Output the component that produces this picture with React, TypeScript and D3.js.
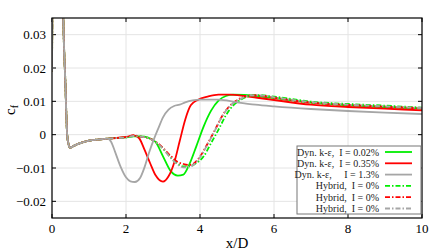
import * as React from 'react';
import * as d3 from 'd3';

type Pt = [number, number];

// shared start of every curve (jet impingement spike + recirculation dip)
const head: Pt[] = [[0, 0.019], [0.03, 0.06], [0.27, 0.06], [0.305, 0.035], [0.36, 0.016], [0.41, 0.0], [0.45, -0.003], [0.49, -0.0039],
  [0.6, -0.0033], [0.8, -0.0024], [1.0, -0.0018], [1.3, -0.0014]];

const dynLow: Pt[] = [[1.6, -0.0011], [2.0, -0.0008], [2.2, -0.0005], [2.4, -0.0005], [2.6, -0.0009], [2.8, -0.0022], [3.0, -0.0065], [3.2, -0.0108], [3.4, -0.0123], [3.55, -0.012], [3.7, -0.0092], [3.9, -0.0035], [4.1, 0.0025], [4.3, 0.0072], [4.5, 0.0102], [4.7, 0.0116], [4.9, 0.012], [5.2, 0.0119], [5.5, 0.0116], [6, 0.011], [7, 0.0096], [8, 0.0088], [9, 0.0083], [10, 0.0078]];
const dynMid: Pt[] = [[1.6, -0.0011], [2.0, -0.0007], [2.2, -0.0002], [2.35, -0.001], [2.5, -0.0045], [2.65, -0.0085], [2.8, -0.0122], [3.0, -0.0141], [3.15, -0.0125], [3.3, -0.0085], [3.45, -0.002], [3.6, 0.0045], [3.75, 0.0088], [3.95, 0.0105], [4.2, 0.0114], [4.5, 0.012], [4.8, 0.012], [5.2, 0.0116], [5.6, 0.011], [6, 0.0104], [7, 0.009], [8, 0.0083], [9, 0.0078], [10, 0.0073]];
const dynHigh: Pt[] = [[1.5, -0.0012], [1.6, -0.0022], [1.7, -0.005], [1.85, -0.0095], [2.0, -0.0128], [2.12, -0.014], [2.24, -0.0142], [2.38, -0.013], [2.5, -0.0098], [2.62, -0.0055], [2.75, -0.0015], [2.87, 0.0018], [3.0, 0.0052], [3.15, 0.0075], [3.3, 0.0086], [3.45, 0.009], [3.6, 0.0097], [3.8, 0.0103], [4.0, 0.0105], [4.5, 0.0105], [5.0, 0.0097], [5.5, 0.009], [6, 0.0085], [7, 0.0077], [8, 0.0071], [9, 0.0066], [10, 0.0062]];
const hybGreen: Pt[] = [[1.6, -0.0011], [2.0, -0.0008], [2.2, -0.0004], [2.4, -0.0006], [2.6, -0.001], [2.8, -0.0022], [3.0, -0.0042], [3.2, -0.0068], [3.4, -0.0088], [3.55, -0.0095], [3.7, -0.0095], [3.9, -0.0085], [4.1, -0.0065], [4.3, -0.0025], [4.5, 0.0015], [4.7, 0.0058], [4.9, 0.0088], [5.1, 0.0105], [5.3, 0.0115], [5.5, 0.0119], [6, 0.0114], [7, 0.0099], [8, 0.0092], [9, 0.0087], [10, 0.0081]];
const hybRed: Pt[] = [[1.6, -0.0011], [2.0, -0.0007], [2.2, -0.0002], [2.4, -0.0006], [2.6, -0.001], [2.8, -0.0021], [3.0, -0.004], [3.2, -0.0063], [3.4, -0.0082], [3.55, -0.0088], [3.7, -0.0091], [3.85, -0.0085], [4.0, -0.0066], [4.2, -0.0028], [4.4, 0.0013], [4.6, 0.0056], [4.8, 0.0086], [5.0, 0.0103], [5.2, 0.0114], [5.4, 0.0118], [5.7, 0.0116], [6, 0.0111], [7, 0.0096], [8, 0.0089], [9, 0.0084], [10, 0.0079]];
const hybGrey: Pt[] = [[1.6, -0.0011], [2.0, -0.0008], [2.2, -0.0004], [2.4, -0.0006], [2.6, -0.001], [2.8, -0.0022], [3.0, -0.0042], [3.2, -0.0068], [3.4, -0.009], [3.55, -0.0098], [3.7, -0.0097], [3.85, -0.0088], [4.0, -0.0068], [4.2, -0.003], [4.4, 0.0012], [4.6, 0.0055], [4.8, 0.0085], [5.0, 0.0102], [5.2, 0.0113], [5.4, 0.0118], [5.7, 0.0117], [6, 0.0112], [7, 0.0098], [8, 0.009], [9, 0.0085], [10, 0.008]];

const legendLabels = ['Dyn. k-ε,  I = 0.02%', 'Dyn. k-ε,  I = 0.35%', 'Dyn. k-ε,     I = 1.3%', 'Hybrid,  I = 0%', 'Hybrid,  I = 0%', 'Hybrid,  I = 0%'];
const xTicks = [0, 2, 4, 6, 8, 10];
const yTicks = [-0.02, -0.01, 0, 0.01, 0.02, 0.03];

const GREEN = '#00ee00';
const RED = '#ff0000';
const GREY = '#a6a6a6';
const DASHDOT = '5,2,1.5,2';

const series = [
  { data: dynLow, color: GREEN, dash: null, label: 0 },
  { data: dynMid, color: RED, dash: null, label: 1 },
  { data: dynHigh, color: GREY, dash: null, label: 2 },
  { data: hybGreen, color: GREEN, dash: DASHDOT, label: 3 },
  { data: hybRed, color: RED, dash: DASHDOT, label: 4 },
  { data: hybGrey, color: GREY, dash: DASHDOT, label: 5 },
];
// grey solid on top, like the original
const drawOrder = [0, 1, 3, 4, 5, 2];

export default function App() {
  const width = 431, height = 251;
  const margin = { top: 18, right: 9, bottom: 33, left: 52 };
  const iw = width - margin.left - margin.right;
  const ih = height - margin.top - margin.bottom;

  const x = d3.scaleLinear().domain([0, 10]).range([0, iw]);
  const y = d3.scaleLinear().domain([-0.025, 0.035]).range([ih, 0]);

  const line = d3.line<Pt>()
    .x(d => x(d[0]))
    .y(d => y(d[1]))
    .curve(d3.curveMonotoneX);

  const fmt = (v: number) => (Math.abs(v) < 1e-9 ? '0' : d3.format('.2f')(v).replace(/^(-?)0\.(\d)(\d)$/, (m, s, a, b) => `${s}0.${a}${b}`));

  const lx = 297 - margin.left, ly = 146 - margin.top;
  const lw = 124, lh = 68;

  return (
    <svg width={width} height={height} style={{ position: 'absolute', left: 0, top: 0, background: '#fff' }}
      fontFamily="'Liberation Serif', 'Times New Roman', serif">
      <defs>
        <clipPath id="plotclip">
          <rect x={0} y={0} width={iw} height={ih} />
        </clipPath>
      </defs>
      <g transform={`translate(${margin.left},${margin.top})`}>
        {/* grid */}
        {xTicks.map(t => (
          <line key={'gx' + t} x1={x(t)} x2={x(t)} y1={0} y2={ih} stroke="#e4e4e4" strokeWidth={1} />
        ))}
        {yTicks.map(t => (
          <line key={'gy' + t} x1={0} x2={iw} y1={y(t)} y2={y(t)} stroke="#e4e4e4" strokeWidth={1} />
        ))}
        {/* inner ticks */}
        {xTicks.map(t => (
          <g key={'tx' + t}>
            <line x1={x(t)} x2={x(t)} y1={ih} y2={ih - 4} stroke="#000" />
            <line x1={x(t)} x2={x(t)} y1={0} y2={4} stroke="#000" />
          </g>
        ))}
        {yTicks.map(t => (
          <g key={'ty' + t}>
            <line x1={0} x2={4} y1={y(t)} y2={y(t)} stroke="#000" />
            <line x1={iw} x2={iw - 4} y1={y(t)} y2={y(t)} stroke="#000" />
          </g>
        ))}
        {/* curves */}
        <g clipPath="url(#plotclip)">
          {drawOrder.map(i => {
            const s = series[i];
            return (
              <path key={'s' + i} d={line(head.concat(s.data)) || ''} fill="none" stroke={s.color}
                strokeWidth={1.8} strokeDasharray={s.dash || undefined} strokeLinejoin="round" />
            );
          })}
        </g>
        {/* frame */}
        <rect x={0} y={0} width={iw} height={ih} fill="none" stroke="#000" strokeWidth={1.2} />
        {/* tick labels */}
        {xTicks.map(t => (
          <text key={'lx' + t} x={x(t)} y={ih + 15} textAnchor="middle" fontSize={13}>{t}</text>
        ))}
        {yTicks.map(t => (
          <text key={'ly' + t} x={-6} y={y(t) + 4.5} textAnchor="end" fontSize={13}>{fmt(t)}</text>
        ))}
        <text x={iw / 2} y={ih + 30} textAnchor="middle" fontSize={15}>x/D</text>
        <text transform={`translate(${-37},${ih / 2 - 8}) rotate(-90)`} textAnchor="middle" fontSize={15}>
          c<tspan fontSize={10} dy={3}>f</tspan>
        </text>
        {/* legend */}
        <g transform={`translate(${lx},${ly})`}>
          <rect x={0} y={0} width={lw} height={lh} fill="#fff" stroke="#777" strokeWidth={1} />
          {series.map((s, i) => {
            const ry = 6 + i * 11.3;
            return (
              <g key={'lg' + i}>
                <text x={82} y={ry + 3.5} textAnchor="end" fontSize={10} style={{ whiteSpace: 'pre' }} fill="#222">
                  {legendLabels[s.label]}
                </text>
                <line x1={88} x2={115} y1={ry} y2={ry} stroke={s.color} strokeWidth={1.8}
                  strokeDasharray={s.dash || undefined} />
              </g>
            );
          })}
        </g>
      </g>
    </svg>
  );
}
